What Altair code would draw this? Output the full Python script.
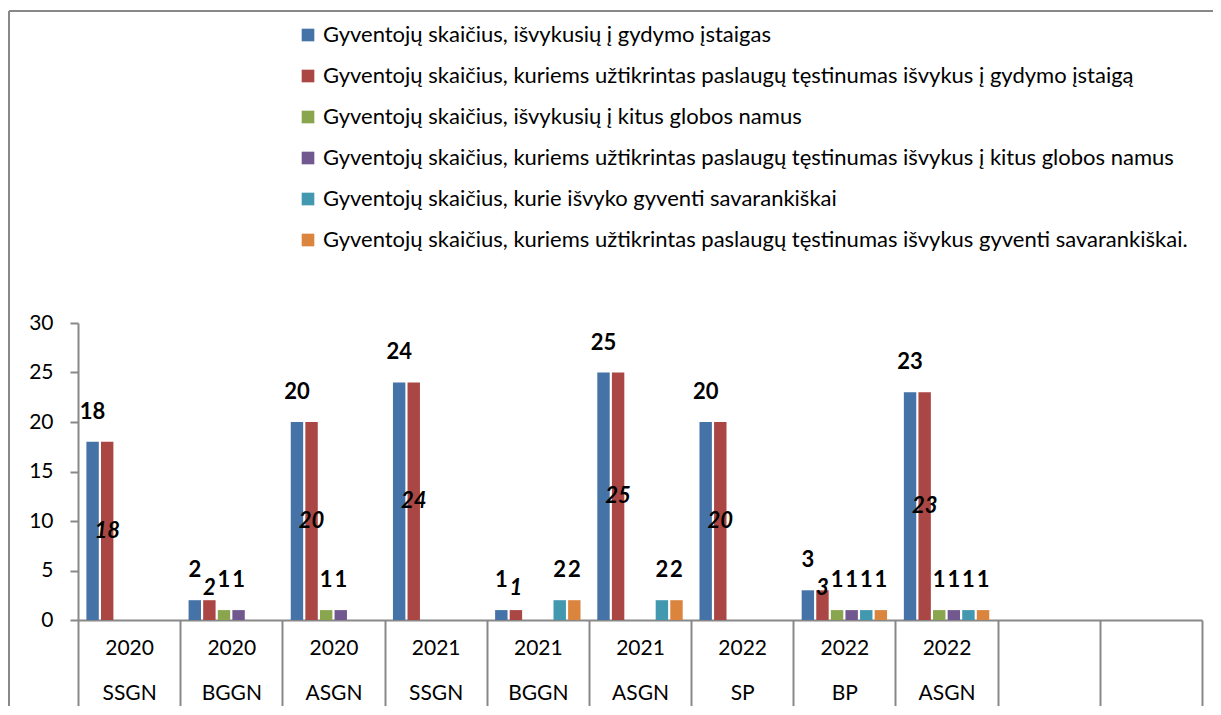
import altair as alt
import pandas as pd

years = ["2020", "2020", "2020", "2021", "2021", "2021", "2022", "2022", "2022", "", ""]
institutions = ["SSGN", "BGGN", "ASGN", "SSGN", "BGGN", "ASGN", "SP", "BP", "ASGN", "", ""]

series_names = [
    "Gyventojų skaičius, išvykusių į gydymo įstaigas",
    "Gyventojų skaičius, kuriems užtikrintas paslaugų tęstinumas išvykus į  gydymo  įstaigą",
    "Gyventojų skaičius, išvykusių į kitus globos namus",
    "Gyventojų skaičius, kuriems užtikrintas paslaugų tęstinumas išvykus į kitus globos namus",
    "Gyventojų skaičius, kurie išvyko gyventi savarankiškai",
    "Gyventojų skaičius, kuriems užtikrintas paslaugų tęstinumas išvykus gyventi savarankiškai.",
]
s1 = [18, 2, 20, 24, 1, 25, 20, 3, 23, None, None]
s2 = [18, 2, 20, 24, 1, 25, 20, 3, 23, None, None]
s3 = [None, 1, 1, None, None, None, None, 1, 1, None, None]
s4 = [None, 1, 1, None, None, None, None, 1, 1, None, None]
s5 = [None, None, None, None, 2, 2, None, 1, 1, None, None]
s6 = [None, None, None, None, 2, 2, None, 1, 1, None, None]
colors = ["#4572A7", "#AA4643", "#89A54E", "#71588F", "#4198AF", "#DB843D"]

cats = [f"{y}|{i}|{k}" for k, (y, i) in enumerate(zip(years, institutions))]
rows = []
for name, vals in zip(series_names, [s1, s2, s3, s4, s5, s6]):
    for c, v in zip(cats, vals):
        if v is not None:
            rows.append({"cat": c, "series": name, "value": v})
df = pd.DataFrame(rows)

FONT = "Lato"
GRAY = "#888888"

x_enc = alt.X(
    "cat:N",
    scale=alt.Scale(domain=cats, paddingInner=0, paddingOuter=0),
    sort=cats,
    axis=alt.Axis(
        title=None,
        labelExpr="isString(datum.value) ? slice(split(datum.value, '|'), 0, 2) : ''",
        labelAngle=0,
        labelFont=FONT,
        labelFontSize=21,
        labelColor="#000000",
        labelLineHeight=45,
        labelBaseline="middle",
        labelPadding=-60,
        labelOverlap=False,
        tickBand="extent",
        tickSize=88,
        tickColor=GRAY,
        tickWidth=2,
        domainColor=GRAY,
        domainWidth=2,
    ),
)
xoff_enc = alt.XOffset(
    "series:N",
    scale=alt.Scale(domain=series_names, paddingInner=0.15, paddingOuter=0.575),
)
y_enc = alt.Y(
    "value:Q",
    scale=alt.Scale(domain=[0, 30], nice=False),
    axis=alt.Axis(
        title=None,
        values=[0, 5, 10, 15, 20, 25, 30],
        grid=False,
        labelFont=FONT,
        labelFontSize=21,
        labelColor="#000000",
        labelPadding=17,
        tickSize=8,
        tickColor=GRAY,
        tickWidth=2,
        domainColor=GRAY,
        domainWidth=2,
    ),
)

base = alt.Chart(df)

bars = base.mark_bar().encode(
    x=x_enc,
    xOffset=xoff_enc,
    y=y_enc,
    color=alt.Color(
        "series:N",
        scale=alt.Scale(domain=series_names, range=colors),
        legend=alt.Legend(
            title=None,
            orient="none",
            legendX=219,
            legendY=-299,
            direction="vertical",
            symbolType="square",
            symbolSize=160,
            symbolStrokeWidth=0,
            labelFont=FONT,
            labelFontSize=22,
            labelColor="#000000",
            labelLimit=1200,
            labelOffset=4,
            rowPadding=19,
        ),
    ),
)

top_labels = (
    base.transform_filter(alt.datum.series != series_names[1])
    .mark_text(font=FONT, fontSize=22, fontWeight="bold", color="#000000", dy=-30, baseline="middle")
    .encode(x=x_enc, xOffset=xoff_enc, y=y_enc, text="value:Q")
)

mid_labels = (
    base.transform_filter(alt.datum.series == series_names[1])
    .transform_calculate(ly="max(datum.value / 2, 3.2)")
    .mark_text(font=FONT, fontSize=22, fontWeight="bold", fontStyle="italic", color="#000000", baseline="middle")
    .encode(x=x_enc, xOffset=xoff_enc, y=alt.Y("ly:Q"), text="value:Q")
)

frame_src = pd.DataFrame({"k": [0]})
frame_top = alt.Chart(frame_src).mark_rule(color=GRAY, strokeWidth=2).encode(
    x=alt.value(-69), x2=alt.value(1135), y=alt.value(-312)
)
frame_left = alt.Chart(frame_src).mark_rule(color=GRAY, strokeWidth=2).encode(
    x=alt.value(-69), y=alt.value(-312), y2=alt.value(400)
)

chart = (
    alt.layer(frame_top, frame_left, bars, top_labels, mid_labels)
    .properties(
        width=1124,
        height=297,
        autosize=alt.AutoSizeParams(type="none"),
        padding={"left": 70, "top": 315, "right": 11, "bottom": 86},
    )
    .configure_view(stroke=None)
)

chart.save("out.html", embed_options={"renderer": "svg", "actions": False})
